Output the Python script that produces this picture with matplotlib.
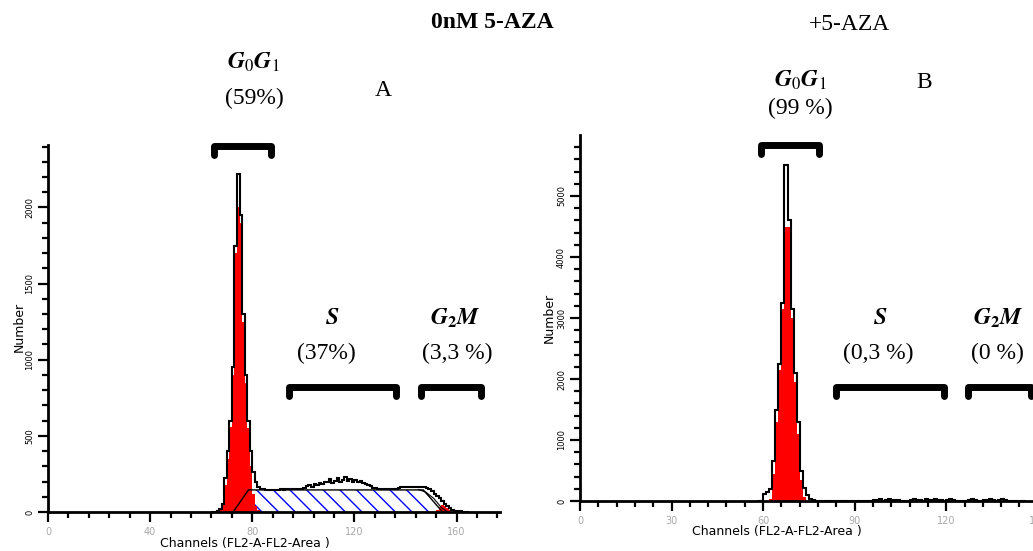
import numpy as np
import matplotlib
matplotlib.use('Agg')
import matplotlib.pyplot as plt
from matplotlib.lines import Line2D

plt.rcParams['mathtext.fontset'] = 'stix'
plt.rcParams['hatch.linewidth'] = 1.0

W, H = 1033, 551

# ---- panel A : 0nM 5-AZA ----
a_start = 64
a_counts = [0, 0, 5, 20, 50, 220, 400, 600, 950, 1750, 2220, 1950, 1300, 900, 600, 400,
            260, 200, 165, 152, 148, 146, 145, 146, 145, 147, 146, 148, 147, 149, 148, 150,
            149, 151, 150, 152, 155, 170, 175, 165, 185, 178, 190, 182, 200, 195, 215, 190,
            205, 225, 200, 210, 230, 205, 215, 200, 210, 195, 205, 190, 185, 180, 170, 160,
            155, 152, 150, 153, 148, 150, 151, 149, 152, 160, 162, 163, 164, 165, 164, 166,
            165, 166, 164, 165, 160, 150, 135, 120, 105, 90, 70, 55, 40, 25, 15, 8,
            5, 4, 3, 2, 0]
a_g1_start = 66
a_g1_fit = [5, 20, 50, 180, 350, 560, 900, 1700, 2000, 1900, 1250, 850, 550, 300, 120, 40, 10]
a_g2_start = 152
a_g2_fit = [10, 30, 45, 40, 25, 10]
a_s_channels = [72.5, 78.5, 147, 154.5]
a_s_fit = [0, 145, 145, 0]
a_sum_channels = [145, 148, 151, 154, 156.5]
a_sum_fit = [148, 130, 90, 30, 0]

# ---- panel B : +5-AZA ----
b_start = 58
b_counts = [0, 0, 120, 150, 200, 650, 1500, 2250, 3250, 5500, 4600, 3150, 2100, 1300, 500, 220,
            100, 40, 15, 5,
            0, 5, 0, 0, 3, 0, 0, 5, 0, 0, 0, 4, 0, 0, 0, 6, 0, 0,
            20, 15, 25, 0, 20, 25, 15, 20, 10,
            0, 0, 5,
            20, 25, 15, 20, 0, 25, 20, 15, 25, 20, 15,
            0,
            20, 25, 10,
            0, 0, 5, 0,
            20, 25, 15,
            0, 5,
            20, 15, 25, 20, 0, 20, 25,
            10, 0, 0, 5, 0, 0, 0]
b_g1_start = 62
b_g1_fit = [40, 450, 1300, 2150, 3150, 4500, 4500, 3000, 1950, 1100, 350, 60]


def px(x, y):
    return x / W, 1 - y / H


def bracket(fig, x0, x1, y, drop=9):
    xs = [x0, x0, x1, x1]
    ys = [y + drop, y, y, y + drop]
    fig.add_artist(Line2D([v / W for v in xs], [1 - v / H for v in ys], color='black',
                          lw=5, solid_capstyle='round', solid_joinstyle='round'))


def style_axes(ax, xmajor, xminor, ymajor, yminor, xlim, ylim):
    ax.set_xlim(*xlim)
    ax.set_ylim(*ylim)
    for s in ['top', 'right']:
        ax.spines[s].set_visible(False)
    for s in ['left', 'bottom']:
        ax.spines[s].set_linewidth(2)
    ax.set_xticks(np.arange(0, xlim[1] + 1, xmajor))
    ax.set_xticks(np.arange(0, xlim[1] + 1, xminor), minor=True)
    ax.set_yticks(np.arange(0, ylim[1], ymajor))
    ax.set_yticks(np.arange(0, ylim[1], yminor), minor=True)
    ax.tick_params(which='major', length=7, width=1.6)
    ax.tick_params(which='minor', length=4, width=1.6)
    ax.tick_params(axis='x', labelsize=7, labelcolor='#a8a8a8', pad=4)
    ax.tick_params(axis='y', labelsize=6, labelrotation=90, pad=3)
    for lab in ax.get_yticklabels():
        lab.set_va('center')
    ax.patch.set_alpha(0)


fig = plt.figure(figsize=(W / 100, H / 100), dpi=100)

# panel A
axA = fig.add_axes([48 / W, 39 / H, 452 / W, 367 / H])
edges = np.arange(a_start, a_start + len(a_counts) + 1)
axA.fill_between(a_s_channels, a_s_fit, color='white', edgecolor='blue', hatch='\\\\', lw=0)
axA.plot(a_s_channels, a_s_fit, color='black', lw=1)
axA.stairs(a_g1_fit, np.arange(a_g1_start, a_g1_start + len(a_g1_fit) + 1), fill=True, color='red')
axA.stairs(a_g2_fit, np.arange(a_g2_start, a_g2_start + len(a_g2_fit) + 1), fill=True, color='red')
axA.plot(a_sum_channels, a_sum_fit, color='black', lw=0.8)
axA.stairs(a_counts, edges, color='black', lw=1.5)
style_axes(axA, 40, 8, 500, 100, (0, 177), (0, 2410))

# panel B
axB = fig.add_axes([580 / W, 50 / H, 473 / W, 366 / H])
axB.stairs(b_g1_fit, np.arange(b_g1_start, b_g1_start + len(b_g1_fit) + 1), fill=True, color='red')
axB.stairs(b_counts, np.arange(b_start, b_start + len(b_counts) + 1), color='black', lw=1.5)
style_axes(axB, 30, 6, 1000, 200, (0, 155), (0, 6000))

# axis labels
fig.text(*px(245, 543), 'Channels (FL2-A-FL2-Area )', fontsize=9, ha='center', va='center')
fig.text(*px(777, 532), 'Channels (FL2-A-FL2-Area )', fontsize=9, ha='center', va='center')
fig.text(*px(19, 327), 'Number', fontsize=9, rotation=90, ha='center', va='center')
fig.text(*px(549, 318), 'Number', fontsize=9, rotation=90, ha='center', va='center')

serif = 'Liberation Serif'
fig.text(*px(492, 23), '0nM 5-AZA', family=serif, fontsize=17, fontweight='bold', ha='center', va='center')
fig.text(*px(850, 25), '+5-AZA', family=serif, fontsize=17, ha='center', va='center')

g0g1 = r'$\mathbfit{G}_{\mathit{0}}\mathbfit{G}_{\mathit{1}}$'
g2m = r'$\mathbfit{G}_{\mathbf{2}}\mathbfit{M}$'
s_lab = r'$\mathbfit{S}$'

labels = [
    (253, 62, g0g1), (254, 98, '(59%)'), (383, 90, 'A'),
    (332, 318, s_lab), (326, 353, '(37%)'),
    (455, 318, g2m), (457, 353, '(3,3 %)'),
    (800, 80, g0g1), (800, 108, '(99 %)'), (924, 83, 'B'),
    (880, 318, s_lab), (878, 353, '(0,3 %)'),
    (998, 318, g2m), (997, 353, '(0 %)'),
]
for x, y, t in labels:
    fig.text(*px(x, y), t, family=serif, fontsize=17, ha='center', va='center')

bracket(fig, 214, 271, 146)
bracket(fig, 289, 396, 387)
bracket(fig, 421, 481, 387)
bracket(fig, 761, 819, 145)
bracket(fig, 836, 944, 387)
bracket(fig, 968, 1031, 387)

fig.savefig('out.png', dpi=100)
